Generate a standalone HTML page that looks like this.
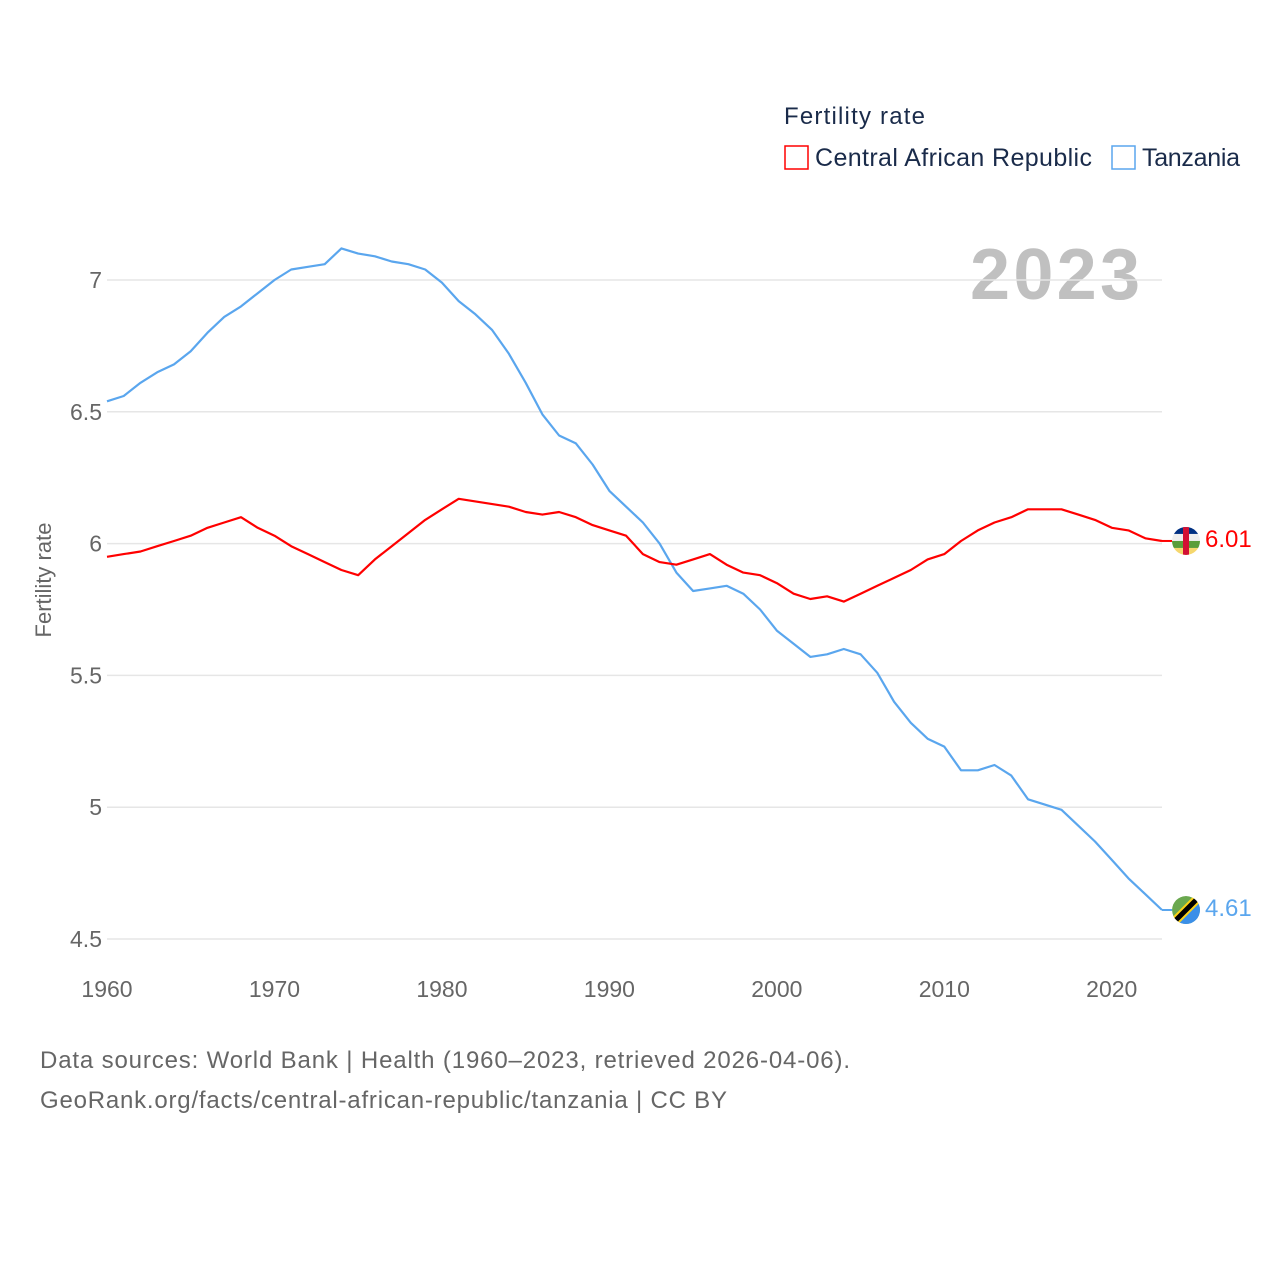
<!DOCTYPE html>
<html><head><meta charset="utf-8"><style>
html,body{margin:0;padding:0;background:#fff;}
svg{display:block;font-family:"Liberation Sans",sans-serif;}
</style></head><body>
<svg id="chart" width="1280" height="1280" viewBox="0 0 1280 1280">
<text x="784" y="124" font-size="24" fill="#1a2b4a" textLength="141">Fertility rate</text>
<g><rect x="785" y="146" width="23" height="23" fill="none" stroke="#ff0000" stroke-width="1.5"/><text x="815" y="166" font-size="25" fill="#1a2b4a" textLength="277">Central African Republic</text></g>
<g><rect x="1112" y="146" width="23" height="23" fill="none" stroke="#5aa6ee" stroke-width="1.5"/><text x="1142" y="166" font-size="25" fill="#1a2b4a" textLength="98">Tanzania</text></g>
<text x="1140" y="299" font-size="72" font-weight="bold" fill="#c0c0c0" text-anchor="end" textLength="170">2023</text>
<text transform="translate(51,580) rotate(-90)" font-size="22" fill="#666" text-anchor="middle">Fertility rate</text>
<g id="grid"></g><g id="lines"></g><g id="ends"></g>
<text x="40" y="1068" font-size="24" fill="#666" textLength="810">Data sources: World Bank | Health (1960–2023, retrieved 2026-04-06).</text>
<text x="40" y="1108" font-size="24" fill="#666" textLength="687">GeoRank.org/facts/central-african-republic/tanzania | CC BY</text>
</svg>
<script>
const years=[];for(let y=1960;y<=2023;y++)years.push(y);
const yTicks=[4.5,5,5.5,6,6.5,7];
const yTickLabels=["4.5","5","5.5","6","6.5","7"];
const xTicks=[1960,1970,1980,1990,2000,2010,2020];
const tanzania=[6.54,6.56,6.61,6.65,6.68,6.73,6.80,6.86,6.90,6.95,7.00,7.04,7.05,7.06,7.12,7.10,7.09,7.07,7.06,7.04,6.99,6.92,6.87,6.81,6.72,6.61,6.49,6.41,6.38,6.30,6.20,6.14,6.08,6.00,5.89,5.82,5.83,5.84,5.81,5.75,5.67,5.62,5.57,5.58,5.60,5.58,5.51,5.40,5.32,5.26,5.23,5.14,5.14,5.16,5.12,5.03,5.01,4.99,4.93,4.87,4.80,4.73,4.67,4.61];
const car=[5.95,5.96,5.97,5.99,6.01,6.03,6.06,6.08,6.10,6.06,6.03,5.99,5.96,5.93,5.90,5.88,5.94,5.99,6.04,6.09,6.13,6.17,6.16,6.15,6.14,6.12,6.11,6.12,6.10,6.07,6.05,6.03,5.96,5.93,5.92,5.94,5.96,5.92,5.89,5.88,5.85,5.81,5.79,5.80,5.78,5.81,5.84,5.87,5.90,5.94,5.96,6.01,6.05,6.08,6.10,6.13,6.13,6.13,6.11,6.09,6.06,6.05,6.02,6.01];
const NS="http://www.w3.org/2000/svg";
const X=y=>107+(y-1960)*(1162-107)/63;
const Y=v=>280+(7-v)*263.6;
function mk(t,a,p){const e=document.createElementNS(NS,t);for(const k in a)e.setAttribute(k,a[k]);p.appendChild(e);return e;}
const grid=document.getElementById('grid');
yTicks.forEach((v,i)=>{
 const l=mk('line',{x1:107,x2:1162,y1:Y(v),y2:Y(v),stroke:'#e6e6e6','stroke-width':1.5},grid);
 
 
 const t=mk('text',{x:102,y:Y(v)+8,'font-size':23,fill:'#666','text-anchor':'end'},grid);
 t.textContent=yTickLabels[i];
 
 
});
xTicks.forEach(y=>{
 const t=mk('text',{x:X(y),y:997,'font-size':23,fill:'#666','text-anchor':'middle'},grid);
 t.textContent=y;
 
 
});
const lines=document.getElementById('lines');
function draw(vals,color,name){
 const d=vals.map((v,i)=>(i?'L':'M')+X(years[i]).toFixed(1)+','+Y(v).toFixed(1)).join('');
 const p=mk('path',{d:d,fill:'none',stroke:color,'stroke-width':2.2,'stroke-linejoin':'round'},lines);
 
 
}
draw(tanzania,'#5aa6ee','tanzania-line');
draw(car,'#ff0000','car-line');
const ends=document.getElementById('ends');
function end(vals,color,name,kind){
 const v=vals[vals.length-1],cy=Y(v),cx=1186;
 mk('line',{x1:1162,x2:1172,y1:cy,y2:cy,stroke:color,'stroke-width':2},ends);
 const g=mk('g',{},ends);
 
 
 if(kind==='car'){
  mk('rect',{x:cx-14,y:cy-14,width:28,height:7,fill:'#003082'},g);
  mk('rect',{x:cx-14,y:cy-7,width:28,height:7,fill:'#eee'},g);
  mk('rect',{x:cx-14,y:cy,width:28,height:7,fill:'#5a9e3a'},g);
  mk('rect',{x:cx-14,y:cy+7,width:28,height:7,fill:'#f5d76e'},g);
  mk('rect',{x:cx-3,y:cy-14,width:6,height:28,fill:'#d21034'},g);
 } else {
  mk('circle',{cx:cx,cy:cy,r:14,fill:'#6aa84f'},g);
  mk('path',{d:`M${cx+14},${cy-14}L${cx+14},${cy+14}L${cx-14},${cy+14}Z`,fill:'#3b8fe8'},g);
  mk('line',{x1:cx-12,y1:cy+12,x2:cx+12,y2:cy-12,stroke:'#fcd116','stroke-width':9},g);
  mk('line',{x1:cx-12,y1:cy+12,x2:cx+12,y2:cy-12,stroke:'#000','stroke-width':5},g);
 }
 const t=mk('text',{x:1205,y:cy+6,'font-size':24,fill:color},ends);
 t.textContent=v.toFixed(2);
 
 
}
const cp=mk('clipPath',{id:'c1'},ends);mk('circle',{cx:1186,cy:Y(6.01),r:14},cp);
end(car,'#ff0000','car','car');
ends.lastChild.previousSibling.setAttribute('clip-path','url(#c1)');
end(tanzania,'#5aa6ee','tanzania','tz');
const cp2=mk('clipPath',{id:'c2'},ends);mk('circle',{cx:1186,cy:Y(4.61),r:14},cp2);
ends.children[ends.children.length-3].setAttribute('clip-path','url(#c2)');
</script>
</body></html>
